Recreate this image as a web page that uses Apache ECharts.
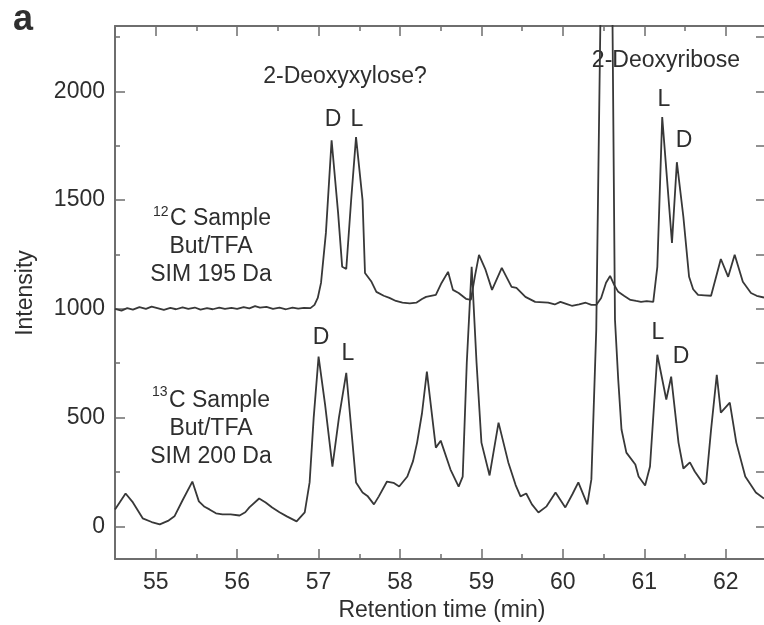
<!DOCTYPE html>
<html><head><meta charset="utf-8">
<script src="https://cdn.jsdelivr.net/npm/echarts@6/dist/echarts.min.js"></script>
<style>html,body{margin:0;padding:0;background:#fff}#c{width:764px;height:625px}</style>
</head><body><div id="c"></div>
<script>
// ---- data ----
const xMajorTicks = [55, 56, 57, 58, 59, 60, 61, 62];
const xMinorTicks = [55.5, 56.5, 57.5, 58.5, 59.5, 60.5, 61.5];
const yMajorTicks = [0, 500, 1000, 1500, 2000];
const yMinorTicks = [250, 750, 1250, 1750, 2250];
const yRightTicks = [0, 250, 500, 750, 1000, 1250, 1500, 1750, 2000, 2250];

// 12C sample, SIM 195 Da
const c12Time = [54.50,54.58,54.65,54.72,54.80,54.88,54.95,55.02,55.10,55.18,55.25,55.33,55.40,55.48,55.55,55.63,55.70,55.78,55.85,55.93,56.00,56.08,56.15,56.22,56.28,56.36,56.44,56.52,56.60,56.68,56.75,56.82,56.90,56.95,56.99,57.03,57.09,57.16,57.24,57.29,57.34,57.40,57.46,57.54,57.57,57.65,57.71,57.80,57.87,57.95,58.03,58.12,58.20,58.27,58.32,58.44,58.51,58.59,58.65,58.72,58.81,58.87,58.92,58.97,59.05,59.13,59.25,59.37,59.43,59.54,59.66,59.82,59.90,59.97,60.05,60.11,60.20,60.28,60.35,60.41,60.47,60.53,60.58,60.63,60.68,60.75,60.83,60.90,60.96,61.03,61.11,61.16,61.22,61.34,61.40,61.48,61.55,61.60,61.66,61.74,61.82,61.94,62.03,62.11,62.21,62.31,62.38,62.47];
const c12Intensity = [1000,992,1003,996,1008,1000,1010,1003,995,1004,998,1007,1000,1006,996,1003,998,1006,1000,1004,1000,1008,1002,1012,1005,1009,1000,1005,998,1006,1001,1004,1003,1018,1050,1119,1349,1775,1440,1193,1183,1500,1789,1500,1165,1124,1078,1060,1050,1036,1028,1025,1028,1045,1055,1064,1119,1170,1087,1073,1046,1041,1150,1248,1180,1087,1188,1101,1096,1055,1032,1028,1020,1032,1022,1014,1020,1028,1018,1018,1050,1120,1151,1110,1078,1060,1041,1036,1032,1035,1032,1193,1881,1303,1674,1422,1147,1090,1064,1062,1060,1229,1147,1248,1124,1073,1060,1052];

// 13C sample, SIM 200 Da
const c13Time = [54.50,54.63,54.72,54.84,54.95,55.05,55.15,55.23,55.33,55.45,55.53,55.60,55.66,55.74,55.82,55.92,56.03,56.10,56.15,56.27,56.35,56.43,56.52,56.61,56.73,56.83,56.89,56.94,57.00,57.08,57.17,57.25,57.34,57.41,57.46,57.54,57.60,57.68,57.74,57.84,57.92,57.99,58.09,58.16,58.21,58.27,58.33,58.44,58.50,58.62,58.72,58.77,58.82,58.88,58.94,59.00,59.10,59.21,59.33,59.42,59.48,59.55,59.62,59.70,59.80,59.91,60.03,60.12,60.19,60.30,60.35,60.41,60.46,60.535,60.61,60.64,60.68,60.72,60.78,60.89,60.93,61.01,61.07,61.16,61.27,61.33,61.42,61.48,61.56,61.62,61.73,61.76,61.82,61.89,61.94,62.05,62.13,62.24,62.37,62.47];
const c13Intensity = [78,151,110,37,20,9,25,46,120,206,115,90,78,60,55,55,50,65,87,128,110,87,65,46,23,64,202,500,780,560,275,500,706,413,202,156,140,101,138,206,200,183,229,300,385,520,711,362,394,261,183,229,752,1193,752,385,234,477,294,190,138,151,101,64,92,156,87,150,202,101,216,904,2300,4300,2300,950,674,445,339,284,229,188,275,789,583,688,385,266,294,252,193,202,445,697,523,569,385,229,156,128];

const c12Data = c12Time.map((t, i) => [t, c12Intensity[i]]);
const c13Data = c13Time.map((t, i) => [t, c13Intensity[i]]);

// ---- chart ----
const FONT = 'Liberation Sans, Arial, Helvetica, sans-serif';
const AX = '#6e6e6e';
const TXT = '#2e2e2e';
const XMIN = 54.5, XMAX = 62.47, YMIN = -150, YMAX = 2300;

function xAx(pos, ticks, len, showLine, showLabel) {
  return {
    type: 'value', position: pos, min: XMIN, max: XMAX,
    splitLine: { show: false },
    axisLine: { show: showLine, onZero: false, lineStyle: { color: AX, width: 2 } },
    axisTick: { show: true, inside: true, length: len, customValues: ticks, lineStyle: { color: AX, width: 1.5 } },
    axisLabel: { show: showLabel, customValues: ticks, margin: 12, color: TXT, fontSize: 23, fontFamily: FONT,
      formatter: v => String(v) }
  };
}
function yAx(pos, ticks, len, showLine, showLabel) {
  return {
    type: 'value', position: pos, min: YMIN, max: YMAX,
    splitLine: { show: false },
    axisLine: { show: showLine, onZero: false, lineStyle: { color: AX, width: 2 } },
    axisTick: { show: true, inside: true, length: len, customValues: ticks, lineStyle: { color: AX, width: 1.5 } },
    axisLabel: { show: showLabel, customValues: ticks, margin: 10, color: TXT, fontSize: 23, fontFamily: FONT,
      formatter: v => String(v) }
  };
}

function txt(x, y, s, size, opts) {
  return Object.assign({
    type: 'text', x: x, y: y, silent: true,
    style: { text: s, fill: TXT, font: (opts && opts.bold ? 'bold ' : '') + size + 'px ' + FONT,
      textAlign: (opts && opts.align) || 'center', textVerticalAlign: 'middle', verticalAlign: 'middle' }
  }, (opts && opts.extra) || {});
}

const chart = echarts.init(document.getElementById('c'), null, { renderer: 'canvas' });
chart.setOption({
  animation: false,
  backgroundColor: '#ffffff',
  grid: { left: 115, top: 26, width: 651, bottom: 66, containLabel: false },
  xAxis: [
    xAx('bottom', xMajorTicks, 10, true, true),
    xAx('bottom', xMinorTicks, 5, false, false),
    xAx('top', xMajorTicks, 10, true, false),
    xAx('top', xMinorTicks, 5, false, false)
  ],
  yAxis: [
    yAx('left', yMajorTicks, 10, true, true),
    yAx('left', yMinorTicks, 5, false, false),
    yAx('right', yRightTicks, 8, false, false)
  ],
  series: [
    { name: '12C', type: 'line', xAxisIndex: 0, yAxisIndex: 0, data: c12Data, showSymbol: false, clip: true,
      lineStyle: { color: '#383838', width: 1.8 } },
    { name: '13C', type: 'line', xAxisIndex: 0, yAxisIndex: 0, data: c13Data, showSymbol: false, clip: true,
      lineStyle: { color: '#383838', width: 1.8 } }
  ],
  graphic: [
    txt(13, 20, 'a', 36, { bold: true, align: 'left' }),
    txt(26, 293, 'Intensity', 23, { extra: { rotation: Math.PI / 2 } }),
    txt(442, 611, 'Retention time (min)', 23),
    txt(345, 77, '2-Deoxyxylose?', 23),
    txt(333, 120, 'D', 23),
    txt(357, 120, 'L', 23),
    txt(666, 61, '2-Deoxyribose', 23),
    txt(664, 100, 'L', 23),
    txt(684, 141, 'D', 23),
    txt(321, 338, 'D', 23),
    txt(348, 354, 'L', 23),
    txt(658, 333, 'L', 23),
    txt(681, 357, 'D', 23),
    // 12C block
    txt(153, 212, '12', 14, { align: 'left' }),
    txt(170, 219, 'C Sample', 23, { align: 'left' }),
    txt(211, 247, 'But/TFA', 23),
    txt(211, 275, 'SIM 195 Da', 23),
    // 13C block
    txt(152, 392, '13', 14, { align: 'left' }),
    txt(169, 401, 'C Sample', 23, { align: 'left' }),
    txt(211, 429, 'But/TFA', 23),
    txt(211, 457, 'SIM 200 Da', 23)
  ]
});
</script></body></html>
